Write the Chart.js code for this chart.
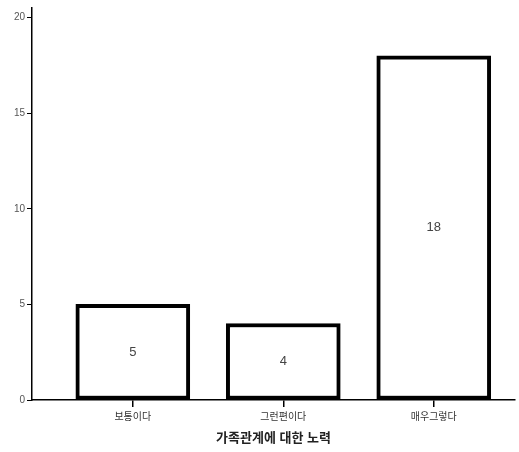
<!DOCTYPE html>
<html>
<head>
<meta charset="utf-8">
<script src="https://cdn.jsdelivr.net/npm/chart.js@4"></script>
<style>
  html, body { margin: 0; padding: 0; background: #fff; }
  #wrap { width: 519px; height: 452px; }
</style>
</head>
<body>
<div id="wrap"><canvas id="myChart" width="519" height="452"></canvas></div>
<script>
const categories = ["보통이다", "그런편이다", "매우그렇다"];
const positions = [1, 2, 3];
const counts = [5, 4, 18];
const yTicks = [0, 5, 10, 15, 20];
const axisTitle = "가족관계에 대한 노력";

const fontFamily = "'Liberation Sans', 'Noto Sans CJK KR', sans-serif";

// value labels in the middle of each bar
const barLabels = {
  id: "barLabels",
  afterDatasetsDraw: (chart) => {
    const ctx = chart.ctx;
    const meta = chart.getDatasetMeta(0);
    ctx.save();
    ctx.font = "13px " + fontFamily;
    ctx.fillStyle = "#444";
    ctx.textAlign = "center";
    ctx.textBaseline = "middle";
    meta.data.forEach((bar, i) => {
      ctx.fillText(String(counts[i]), bar.x, (bar.y + bar.base) / 2);
    });
    ctx.restore();
  },
};

const ctx = document.querySelector("#myChart").getContext("2d");
const chart = new Chart(ctx, {
  type: "bar",
  data: {
    datasets: [
      {
        data: positions.map((p, i) => ({ x: p, y: counts[i] })),
        backgroundColor: "#fff",
        borderColor: "#000",
        borderWidth: 4,
        borderSkipped: false,
        barThickness: 114,
      },
    ],
  },
  options: {
    responsive: false,
    animation: false,
    layout: { padding: { top: 8, right: 4, left: 0, bottom: 6 } },
    plugins: { legend: { display: false }, tooltip: { enabled: false } },
    scales: {
      x: {
        type: "linear",
        offset: false,
        min: 0.33,
        max: 3.54,
        afterBuildTicks: (scale) => {
          scale.ticks = positions.map((v) => ({ value: v }));
        },
        afterFit: (scale) => {
          scale.height = 46;
        },
        ticks: {
          callback: (v) => categories[positions.indexOf(v)] || "",
          font: { size: 10, family: fontFamily },
          color: "#333",
          padding: 4,
          maxRotation: 0,
        },
        grid: {
          drawOnChartArea: false,
          offset: false,
          color: "#000",
          tickColor: "#000",
          tickLength: 7,
          tickWidth: 1.5,
          lineWidth: 1.5,
        },
        border: { color: "#000", width: 1.5 },
        title: {
          display: true,
          text: axisTitle,
          font: { size: 13, weight: "bold", family: fontFamily },
          color: "#222",
          padding: { top: 0, bottom: 0 },
        },
      },
      y: {
        min: 0,
        max: 20.5,
        afterBuildTicks: (scale) => {
          scale.ticks = yTicks.map((v) => ({ value: v }));
        },
        afterFit: (scale) => {
          scale.width = 32;
        },
        ticks: {
          font: { size: 10, family: fontFamily },
          color: "#555",
          padding: 2,
        },
        grid: { drawOnChartArea: false, color: "#000", tickLength: 5, lineWidth: 1 },
        border: { color: "#000", width: 1.5 },
      },
    },
  },
  plugins: [barLabels],
});
</script>
</body>
</html>
